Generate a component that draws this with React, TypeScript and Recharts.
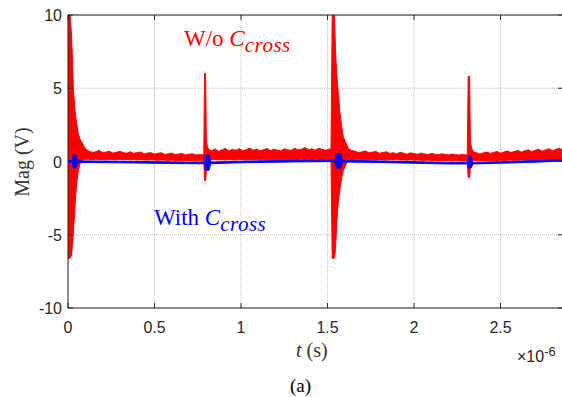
import React from 'react';
import {
  ComposedChart, Area, XAxis, YAxis, CartesianGrid,
} from 'recharts';

// Time axis in µs (axis shows ×10^-6 s); red/blue stored as envelope lo/hi
const redT = [
  0, 0.004, 0.012, 0.021, 0.031, 0.040, 0.050, 0.060, 0.070, 0.079, 0.098,
  0.12, 0.14, 0.16, 0.18, 0.20, 0.22, 0.24, 0.26, 0.28, 0.30, 0.32, 0.34, 0.36,
  0.38, 0.40, 0.42, 0.44, 0.46, 0.48, 0.50, 0.52, 0.54, 0.56, 0.58, 0.60, 0.62,
  0.64, 0.66, 0.68, 0.70, 0.72, 0.74, 0.76, 0.775,
  0.785, 0.789, 0.795, 0.800, 0.806, 0.815,
  0.83, 0.85, 0.87, 0.89, 0.91, 0.93, 0.95, 0.97, 0.99, 1.01, 1.03, 1.05, 1.07,
  1.09, 1.11, 1.13, 1.15, 1.17, 1.19, 1.21, 1.23, 1.25, 1.27, 1.29, 1.31, 1.33,
  1.35, 1.37, 1.39, 1.41, 1.43, 1.45, 1.47, 1.49, 1.51, 1.52,
  1.527, 1.540, 1.546, 1.553, 1.562, 1.572, 1.582, 1.591, 1.607, 1.620, 1.64,
  1.66, 1.68, 1.70, 1.72, 1.74, 1.76, 1.78, 1.80, 1.82, 1.84, 1.86, 1.88, 1.90,
  1.92, 1.94, 1.96, 1.98, 2.00, 2.02, 2.04, 2.06, 2.08, 2.10, 2.12, 2.14, 2.16,
  2.18, 2.20, 2.22, 2.24, 2.26, 2.28, 2.30,
  2.308, 2.313, 2.321, 2.326, 2.333, 2.345,
  2.36, 2.38, 2.40, 2.42, 2.44, 2.46, 2.48, 2.50, 2.52, 2.54, 2.56, 2.58, 2.60,
  2.62, 2.64, 2.66, 2.68, 2.70, 2.72, 2.74, 2.76, 2.78, 2.80, 2.82, 2.84, 2.86,
];
const redLo = [
  -6.6, -6.6, -6.6, -6.4, -4.9, -3.1, -1.5, -0.6, -0.1, 0.1, 0.15,
  0.15, 0.12, 0.16, 0.13, 0.14, 0.11, 0.15, 0.13, 0.12, 0.15, 0.12, 0.14, 0.11,
  0.13, 0.1, 0.12, 0.11, 0.09, 0.12, 0.1, 0.08, 0.11, 0.09, 0.07, 0.1, 0.06,
  0.08, 0.07, 0.05, 0.08, 0.06, 0.04, 0.06, 0.05,
  0.05, -1.3, -1.3, -0.6, -0.1, 0.1,
  0.1, 0.13, 0.11, 0.12, 0.1, 0.13, 0.11, 0.1, 0.13, 0.12, 0.1, 0.12, 0.11,
  0.13, 0.1, 0.12, 0.11, 0.13, 0.12, 0.1, 0.13, 0.14, 0.12, 0.15, 0.13, 0.14,
  0.16, 0.13, 0.15, 0.14, 0.16, 0.15, 0.13, 0.16, 0.15, 0.15,
  -6.6, -6.6, -6.0, -4.2, -2.8, -1.9, -1.1, -0.6, -0.2, 0.05, 0.12,
  0.15, 0.13, 0.12, 0.14, 0.12, 0.13, 0.11, 0.14, 0.12, 0.1, 0.13, 0.11, 0.12,
  0.1, 0.11, 0.09, 0.12, 0.08, 0.1, 0.09, 0.07, 0.1, 0.06, 0.08, 0.07, 0.05,
  0.07, 0.06, 0.04, 0.06, 0.05, 0.03, 0.04,
  0.04, -1.1, -1.1, -0.4, 0.0, 0.08,
  0.06, 0.05, 0.07, 0.06, 0.05, 0.08, 0.06, 0.09, 0.07, 0.08, 0.1, 0.08, 0.09,
  0.11, 0.1, 0.09, 0.12, 0.1, 0.11, 0.13, 0.12, 0.11, 0.14, 0.12, 0.13, 0.14,
];
const redHi = [
  10, 10, 10, 8.5, 5.0, 3.5, 2.6, 1.9, 1.5, 1.35, 0.9,
  0.72, 0.62, 0.66, 0.76, 0.6, 0.64, 0.7, 0.57, 0.63, 0.69, 0.6, 0.56, 0.66,
  0.55, 0.61, 0.64, 0.52, 0.58, 0.6, 0.5, 0.56, 0.59, 0.48, 0.53, 0.57, 0.47,
  0.51, 0.54, 0.45, 0.5, 0.53, 0.44, 0.48, 0.45,
  0.5, 6.0, 6.0, 1.4, 1.0, 0.8,
  0.74, 0.86, 0.7, 0.79, 0.9, 0.72, 0.83, 0.76, 0.88, 0.73, 0.81, 0.92, 0.77,
  0.85, 0.74, 0.8, 0.89, 0.75, 0.84, 0.78, 0.72, 0.87, 0.8, 0.76, 0.91, 0.79,
  0.84, 0.95, 0.8, 0.86, 0.78, 0.9, 0.83, 0.77, 0.86, 0.78,
  10, 10, 7.6, 6.0, 4.7, 3.3, 2.4, 1.7, 1.25, 0.9, 0.75,
  0.7, 0.6, 0.66, 0.72, 0.58, 0.64, 0.68, 0.56, 0.62, 0.66, 0.55, 0.6, 0.52,
  0.63, 0.57, 0.5, 0.59, 0.54, 0.49, 0.57, 0.52, 0.47, 0.55, 0.5, 0.46, 0.53,
  0.48, 0.45, 0.51, 0.46, 0.44, 0.49, 0.45,
  0.45, 5.8, 5.8, 1.3, 0.9, 0.65,
  0.6, 0.52, 0.58, 0.64, 0.55, 0.62, 0.68, 0.57, 0.65, 0.72, 0.61, 0.69, 0.75,
  0.64, 0.73, 0.8, 0.67, 0.76, 0.84, 0.7, 0.79, 0.87, 0.74, 0.83, 0.9, 0.8,
];

const blueT = [
  0, 0.025, 0.030, 0.045, 0.055, 0.10, 0.3, 0.5, 0.7, 0.79,
  0.795, 0.815, 0.825, 1.0, 1.3, 1.5, 1.545,
  1.55, 1.575, 1.585, 1.8, 2.0, 2.2, 2.31,
  2.315, 2.33, 2.34, 2.5, 2.7, 2.86,
];
const blueLo = [
  -0.05, -0.06, -0.45, -0.45, -0.08, -0.07, -0.09, -0.12, -0.15, -0.15,
  -0.6, -0.6, -0.15, -0.09, -0.03, -0.01, -0.01,
  -0.45, -0.45, -0.03, -0.07, -0.12, -0.17, -0.17,
  -0.45, -0.45, -0.17, -0.12, -0.05, 0.03,
];
const blueHi = [
  0.05, 0.06, 0.45, 0.45, 0.05, 0.04, 0.02, -0.01, -0.04, -0.04,
  0.45, 0.45, -0.04, 0.02, 0.08, 0.1, 0.1,
  0.55, 0.55, 0.08, 0.04, -0.01, -0.06, -0.06,
  0.35, 0.35, -0.06, -0.01, 0.06, 0.14,
];

const xTicks = [0, 0.5, 1, 1.5, 2, 2.5];
const yTicks = [-10, -5, 0, 5, 10];

const redData = redT.map((t, i) => ({ t, band: [redLo[i], redHi[i]] }));
const blueData = blueT.map((t, i) => ({ t, band: [blueLo[i], blueHi[i]] }));

const AX = '#262626';
const TICK_FONT = '"Liberation Sans", Arial, sans-serif';
const SERIF = '"Liberation Serif", "Times New Roman", serif';

const BottomTick = ({ x, y, payload }: any) => (
  <g>
    <line x1={x} x2={x} y1={y} y2={y - 5} stroke={AX} />
    <text x={x} y={y + 25} textAnchor="middle" fill={AX} fontSize={16} fontFamily={TICK_FONT}>
      {payload.value}
    </text>
  </g>
);
const TopTick = ({ x, y }: any) => <line x1={x} x2={x} y1={y} y2={y + 5} stroke={AX} />;
const LeftTick = ({ x, y, payload }: any) => (
  <g>
    <line x1={x} x2={x + 5} y1={y} y2={y} stroke={AX} />
    <text x={x - 6} y={y + 6} textAnchor="end" fill={AX} fontSize={16} fontFamily={TICK_FONT}>
      {payload.value}
    </text>
  </g>
);
const RightTick = ({ x, y }: any) => <line x1={x} x2={x - 5} y1={y} y2={y} stroke={AX} />;

const abs = (left: number, top: number): React.CSSProperties => ({
  position: 'absolute', left, top, whiteSpace: 'nowrap', lineHeight: 1,
});

export default function App() {
  return (
    <div style={{ position: 'absolute', left: 0, top: 0, width: 562, height: 397, overflow: 'hidden', background: '#fff' }}>
      <ComposedChart width={566} height={397} margin={{ top: 14, right: 2, bottom: 88, left: 67 }}>
        <CartesianGrid xAxisId="b" yAxisId="l" stroke="#bdbdbd" strokeDasharray="1 1" />
        <XAxis xAxisId="b" type="number" dataKey="t" domain={[0, 2.861]} ticks={xTicks} interval={0}
               allowDataOverflow height={1} tickSize={0} tickMargin={0} tickLine={false}
               axisLine={{ stroke: AX }} tick={<BottomTick />} />
        <XAxis xAxisId="top" orientation="top" type="number" dataKey="t" domain={[0, 2.861]} ticks={xTicks}
               interval={0} allowDataOverflow height={1} tickSize={0} tickMargin={0} tickLine={false}
               axisLine={{ stroke: AX }} tick={<TopTick />} />
        <YAxis yAxisId="l" type="number" domain={[-10, 10]} ticks={yTicks} interval={0} allowDataOverflow
               width={1} tickSize={0} tickMargin={0} tickLine={false} axisLine={{ stroke: AX }} tick={<LeftTick />} />
        <YAxis yAxisId="r" orientation="right" type="number" domain={[-10, 10]} ticks={yTicks} interval={0}
               allowDataOverflow width={1} tickSize={0} tickMargin={0} tickLine={false}
               axisLine={{ stroke: AX }} tick={<RightTick />} />
        <Area xAxisId="b" yAxisId="l" data={redData} dataKey="band" type="linear"
              stroke="#ff0000" strokeWidth={1} fill="#ff0000" fillOpacity={1} isAnimationActive={false} dot={false} activeDot={false} />
        <Area xAxisId="b" yAxisId="l" data={blueData} dataKey="band" type="linear"
              stroke="#0000ff" strokeWidth={1} fill="#0000ff" fillOpacity={1} isAnimationActive={false} dot={false} activeDot={false} />
      </ComposedChart>

      <div style={{ ...abs(184, 27), color: '#ff0000', fontFamily: SERIF, fontSize: 23 }}>
        W/o <i>C</i><sub style={{ fontSize: 21, fontStyle: 'italic', letterSpacing: 0.5 }}>cross</sub>
      </div>
      <div style={{ ...abs(154, 206), color: '#0000ff', fontFamily: SERIF, fontSize: 23 }}>
        With <i>C</i><sub style={{ fontSize: 21, fontStyle: 'italic', letterSpacing: 0.5 }}>cross</sub>
      </div>

      <div style={{ ...abs(-18, 152), width: 80, textAlign: 'center', transform: 'rotate(-90deg)', color: '#333', fontFamily: SERIF, fontSize: 20 }}>
        Mag (V)
      </div>
      <div style={{ ...abs(296, 340), color: '#333', fontFamily: SERIF, fontSize: 20 }}>
        <i>t</i> (s)
      </div>
      <div style={{ ...abs(517, 345), color: AX, fontFamily: TICK_FONT, fontSize: 16 }}>
        ×10<sup style={{ fontSize: 13 }}>-6</sup>
      </div>
      <div style={{ ...abs(290, 376), color: '#000', fontFamily: SERIF, fontSize: 19 }}>
        (a)
      </div>
    </div>
  );
}
